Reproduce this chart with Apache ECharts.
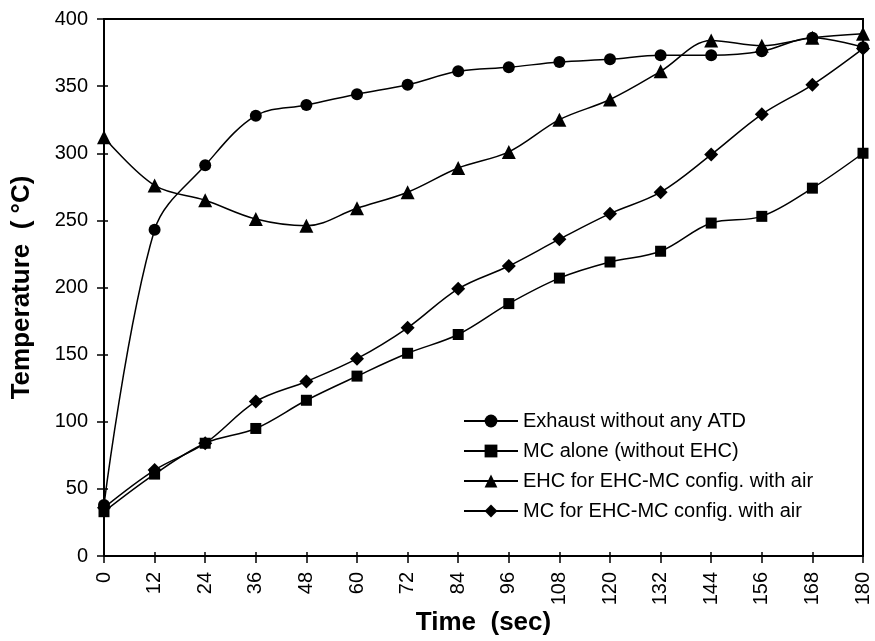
<!DOCTYPE html>
<html>
<head>
<meta charset="utf-8">
<script src="https://cdn.jsdelivr.net/npm/echarts@6/dist/echarts.min.js"></script>
<style>
  html, body { margin: 0; padding: 0; background: #fff; }
  #main { width: 875px; height: 641px; }
</style>
</head>
<body>
<div id="main"></div>
<script>
// time axis (sec)
var times = [0, 12, 24, 36, 48, 60, 72, 84, 96, 108, 120, 132, 144, 156, 168, 180];

// temperatures (°C)
var exhaust = [38, 243, 291, 328, 336, 344, 351, 361, 364, 368, 370, 373, 373, 376, 386, 379];
var mcAlone = [33, 61, 84, 95, 116, 134, 151, 165, 188, 207, 219, 227, 248, 253, 274, 300];
var ehcAir  = [312, 276, 265, 251, 246, 259, 271, 289, 301, 325, 340, 361, 384, 380, 386, 389];
var mcAir   = [36, 64, 84, 115, 130, 147, 170, 199, 216, 236, 255, 271, 299, 329, 351, 378];

var names = [
    'Exhaust without any ATD',
    'MC alone (without EHC)',
    'EHC for EHC-MC config. with air',
    'MC for EHC-MC config. with air'
];

var myChart = echarts.init(document.getElementById('main'));

function pts(arr) {
    return times.map(function (t, i) { return [t, arr[i]]; });
}

function mkSeries(name, arr, sym, size) {
    return {
        name: name,
        type: 'line',
        data: pts(arr),
        smooth: 0.35,
        symbol: sym,
        symbolSize: size,
        showSymbol: true,
        lineStyle: { color: '#000', width: 1.5 },
        itemStyle: { color: '#000', borderWidth: 0 },
        emphasis: { disabled: true },
        animation: false
    };
}

var font = 'Liberation Sans';

var option = {
    backgroundColor: '#fff',
    grid: {
        left: 104, right: 12, top: 19, bottom: 85,
        outerBoundsMode: 'none',
        show: true, borderColor: '#000', borderWidth: 2
    },
    legend: {
        orient: 'vertical',
        left: 458, top: 405,
        itemWidth: 54, itemHeight: 16, itemGap: 8,
        textStyle: { fontFamily: font, fontSize: 20, color: '#000', lineHeight: 22 },
        data: names
    },
    xAxis: [{
        type: 'value',
        min: 0, max: 180, interval: 12,
        name: 'Time  (sec)',
        nameLocation: 'middle',
        nameGap: 54,
        nameMoveOverlap: false,
        nameTextStyle: { fontFamily: font, fontWeight: 'bold', fontSize: 26, color: '#000' },
        axisLine: { lineStyle: { color: '#000', width: 2 } },
        axisTick: { length: 7, lineStyle: { color: '#000', width: 1.5 } },
        axisLabel: { rotate: 90, fontFamily: font, fontSize: 20, color: '#000', margin: 16 },
        splitLine: { show: false }
    }, {
        // inner half of the crossing ticks
        type: 'value', position: 'bottom',
        min: 0, max: 180, interval: 12,
        axisLine: { show: false },
        axisTick: { inside: true, length: 4, lineStyle: { color: '#000', width: 1.5 } },
        axisLabel: { show: false },
        splitLine: { show: false }
    }],
    yAxis: [{
        type: 'value',
        min: 0, max: 400, interval: 50,
        name: 'Temperature  ( °C)',
        nameLocation: 'middle',
        nameGap: 69,
        nameTextStyle: { fontFamily: font, fontWeight: 'bold', fontSize: 26, color: '#000' },
        axisLine: { show: true, lineStyle: { color: '#000', width: 2 } },
        axisTick: { show: true, length: 7, lineStyle: { color: '#000', width: 1.5 } },
        axisLabel: { fontFamily: font, fontSize: 20, color: '#000', margin: 16 },
        splitLine: { show: false }
    }, {
        type: 'value', position: 'left',
        min: 0, max: 400, interval: 50,
        axisLine: { show: false },
        axisTick: { show: true, inside: true, length: 4, lineStyle: { color: '#000', width: 1.5 } },
        axisLabel: { show: false },
        splitLine: { show: false }
    }],
    series: [
        mkSeries(names[0], exhaust, 'circle', 12),
        mkSeries(names[1], mcAlone, 'rect', 11),
        mkSeries(names[2], ehcAir, 'triangle', 14),
        mkSeries(names[3], mcAir, 'diamond', 14)
    ]
};

myChart.setOption(option);
</script>
</body>
</html>
